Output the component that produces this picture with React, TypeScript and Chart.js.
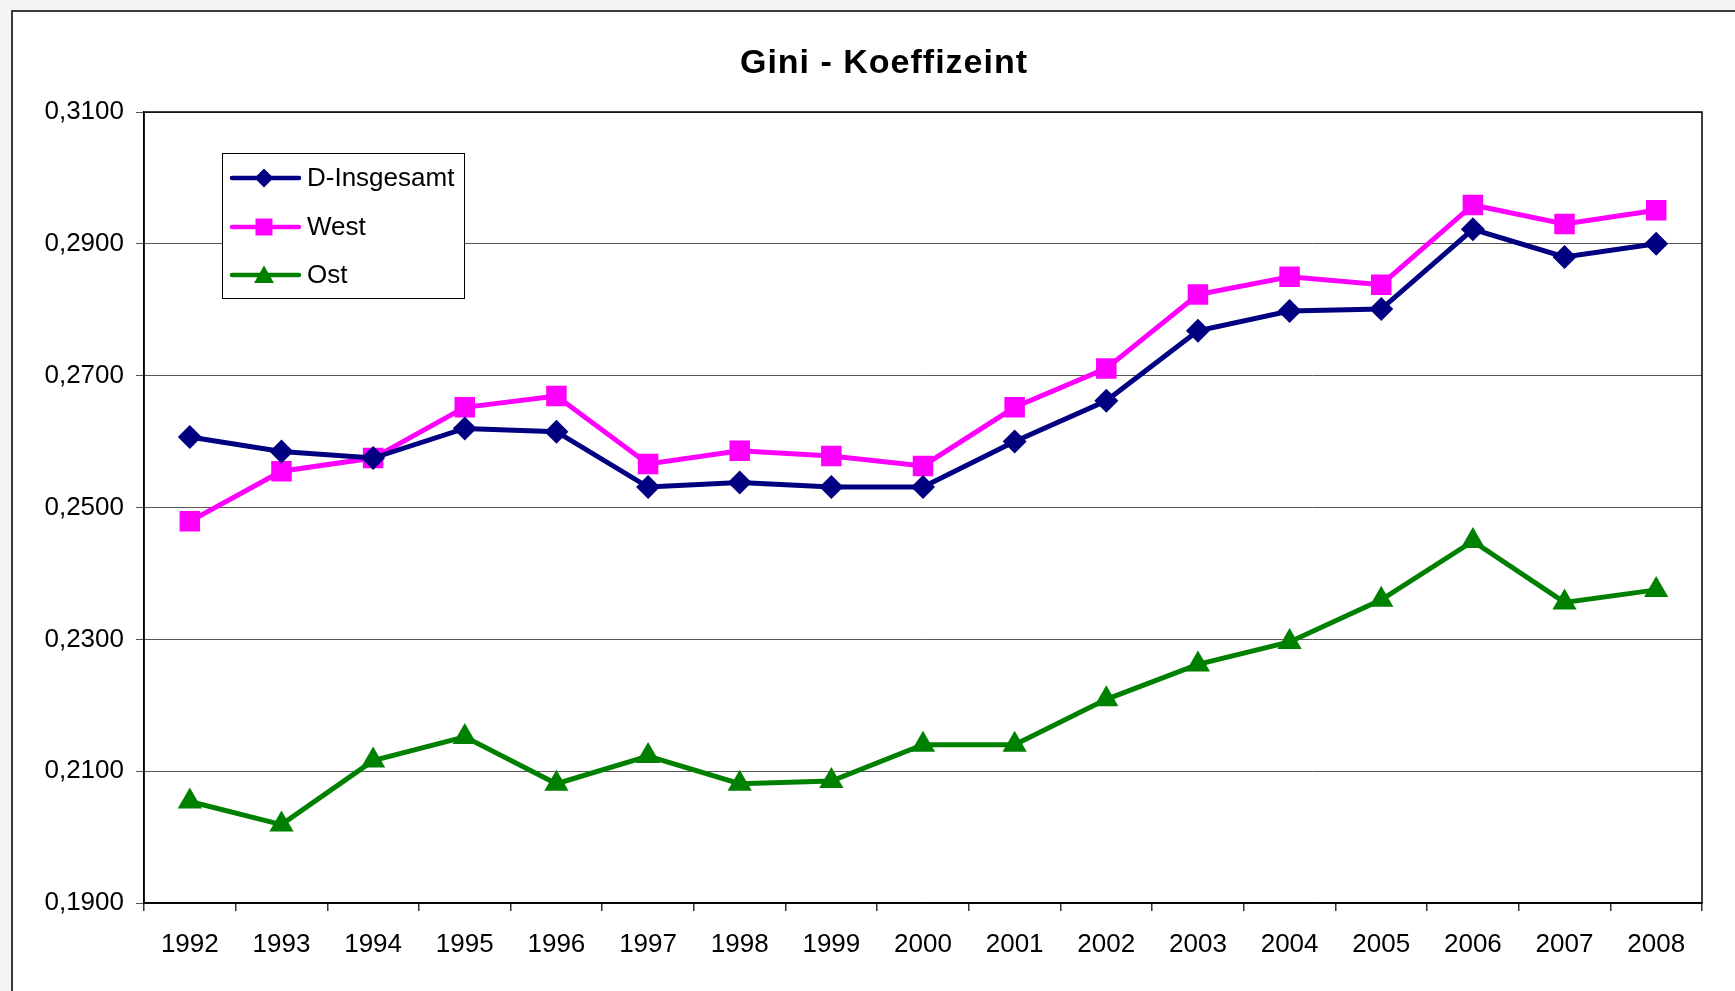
import React, { useEffect, useRef } from 'react';
import { Chart, registerables } from 'chart.js';

Chart.register(...registerables);

const years = ['1992', '1993', '1994', '1995', '1996', '1997', '1998', '1999', '2000', '2001', '2002', '2003', '2004', '2005', '2006', '2007', '2008'];
const dInsgesamt = [0.2607, 0.2585, 0.2575, 0.2620, 0.2615, 0.2531, 0.2538, 0.2531, 0.2531, 0.2600, 0.2662, 0.2768, 0.2798, 0.2801, 0.2922, 0.2880, 0.2900];
const west = [0.2479, 0.2555, 0.2575, 0.2652, 0.2669, 0.2566, 0.2586, 0.2578, 0.2563, 0.2652, 0.2711, 0.2823, 0.2850, 0.2838, 0.2959, 0.2930, 0.2951];
const ost = [0.2054, 0.2019, 0.2116, 0.2152, 0.2081, 0.2123, 0.2081, 0.2085, 0.2140, 0.2140, 0.2209, 0.2262, 0.2296, 0.2360, 0.2449, 0.2356, 0.2375];
const seriesLabels = ['D-Insgesamt', 'West', 'Ost'];
const titleText = 'Gini - Koeffizeint';
const yMin = 0.19;
const yMax = 0.31;
const yStep = 0.02;

const FONT = '"Liberation Sans", Arial, sans-serif';
const W = 1735;
const H = 991;

const drawMarker = (ctx: CanvasRenderingContext2D, style: string, x: number, y: number, s: number, color: string) => {
  ctx.save();
  ctx.fillStyle = color;
  ctx.beginPath();
  if (style === 'rectRot') {
    ctx.moveTo(x, y - s);
    ctx.lineTo(x + s, y);
    ctx.lineTo(x, y + s);
    ctx.lineTo(x - s, y);
  } else if (style === 'rect') {
    ctx.rect(x - s, y - s, 2 * s, 2 * s);
  } else {
    ctx.moveTo(x, y - s);
    ctx.lineTo(x + s * 1.05, y + s * 0.85);
    ctx.lineTo(x - s * 1.05, y + s * 0.85);
  }
  ctx.closePath();
  ctx.fill();
  ctx.restore();
};

const decorPlugin = {
  id: 'decor',
  beforeDraw(chart: any) {
    const ctx = chart.ctx as CanvasRenderingContext2D;
    ctx.save();
    ctx.fillStyle = '#f4f4f4';
    ctx.fillRect(0, 0, W, H);
    ctx.fillStyle = '#ffffff';
    ctx.fillRect(12, 11, W, H);
    ctx.strokeStyle = '#3a3a3a';
    ctx.lineWidth = 2;
    ctx.beginPath();
    ctx.moveTo(12, H + 5);
    ctx.lineTo(12, 11);
    ctx.lineTo(W + 5, 11);
    ctx.stroke();
    // title
    ctx.fillStyle = '#000';
    ctx.font = `bold 34px ${FONT}`;
    (ctx as any).letterSpacing = '1px';
    ctx.textAlign = 'center';
    ctx.textBaseline = 'middle';
    ctx.fillText(titleText, 884, 64);
    ctx.restore();
  },
  afterDraw(chart: any) {
    const ctx = chart.ctx as CanvasRenderingContext2D;
    const a = chart.chartArea;
    ctx.save();
    ctx.strokeStyle = '#000';
    ctx.lineWidth = 1.5;
    ctx.strokeRect(a.left, a.top, a.right - a.left, a.bottom - a.top);

    // legend
    const bx = 222, by = 153, bw = 242, bh = 145;
    ctx.fillStyle = '#fff';
    ctx.fillRect(bx, by, bw, bh);
    ctx.strokeStyle = '#000';
    ctx.lineWidth = 1;
    ctx.strokeRect(bx + 0.5, by + 0.5, bw, bh);
    const rows = [178, 227, 275];
    chart.data.datasets.forEach((ds: any, i: number) => {
      const y = rows[i];
      ctx.strokeStyle = ds.borderColor;
      ctx.lineWidth = 4.5;
      ctx.lineCap = 'round';
      ctx.beginPath();
      ctx.moveTo(232, y);
      ctx.lineTo(299, y);
      ctx.stroke();
      const sz = ds.pointStyle === 'rect' ? 8.5 : 9.5;
      drawMarker(ctx, ds.pointStyle, 264, y, sz, ds.borderColor);
      ctx.fillStyle = '#000';
      ctx.font = `26px ${FONT}`;
      ctx.textAlign = 'left';
      ctx.textBaseline = 'middle';
      ctx.fillText(ds.label, 307, y + 1);
    });
    ctx.restore();
  },
};

export default function App() {
  const ref = useRef<HTMLCanvasElement | null>(null);
  useEffect(() => {
    if (!ref.current) return;
    const chart = new Chart(ref.current, {
      type: 'line',
      data: {
        labels: years,
        datasets: [
          {
            label: seriesLabels[0],
            data: dInsgesamt,
            borderColor: '#000080',
            backgroundColor: '#000080',
            borderWidth: 5,
            pointStyle: 'rectRot',
            pointRadius: 12,
            pointBorderWidth: 0,
            tension: 0,
          },
          {
            label: seriesLabels[1],
            data: west,
            borderColor: '#ff00ff',
            backgroundColor: '#ff00ff',
            borderWidth: 5,
            pointStyle: 'rect',
            pointRadius: 14.5,
            pointBorderWidth: 0,
            tension: 0,
          },
          {
            label: seriesLabels[2],
            data: ost,
            borderColor: '#008000',
            backgroundColor: '#008000',
            borderWidth: 5,
            pointStyle: 'triangle',
            pointRadius: 14,
            pointBorderWidth: 0,
            tension: 0,
          },
        ],
      },
      options: {
        responsive: false,
        animation: false,
        layout: { padding: { top: 112, right: 33, bottom: 0, left: 0 } },
        plugins: {
          legend: { display: false },
          title: { display: false },
          tooltip: { enabled: false },
        },
        scales: {
          x: {
            type: 'category',
            offset: true,
            grid: { offset: true, drawOnChartArea: false, drawTicks: true, tickLength: 8, color: '#333', lineWidth: 1.5 },
            border: { display: true, color: '#000', width: 1.5 },
            ticks: { font: { family: FONT, size: 26 }, color: '#000', padding: 18, maxRotation: 0, autoSkip: false },
            afterFit: (s: any) => { s.height = H - 903; },
          },
          y: {
            min: yMin,
            max: yMax,
            grid: { color: '#555', lineWidth: 1, tickLength: 8 },
            border: { display: true, color: '#000', width: 1.5 },
            ticks: {
              stepSize: yStep,
              font: { family: FONT, size: 26 },
              color: '#000',
              padding: 12,
              callback: (v: any) => Number(v).toFixed(4).replace('.', ','),
            },
            afterFit: (s: any) => { s.width = 144; },
          },
        },
      },
      plugins: [decorPlugin],
    });
    return () => chart.destroy();
  }, []);
  return (
    <div style={{ position: 'fixed', left: 0, top: 0, width: W, height: H, overflow: 'hidden' }}>
      <canvas ref={ref} width={W} height={H} style={{ display: 'block', width: W, height: H }} />
    </div>
  );
}
